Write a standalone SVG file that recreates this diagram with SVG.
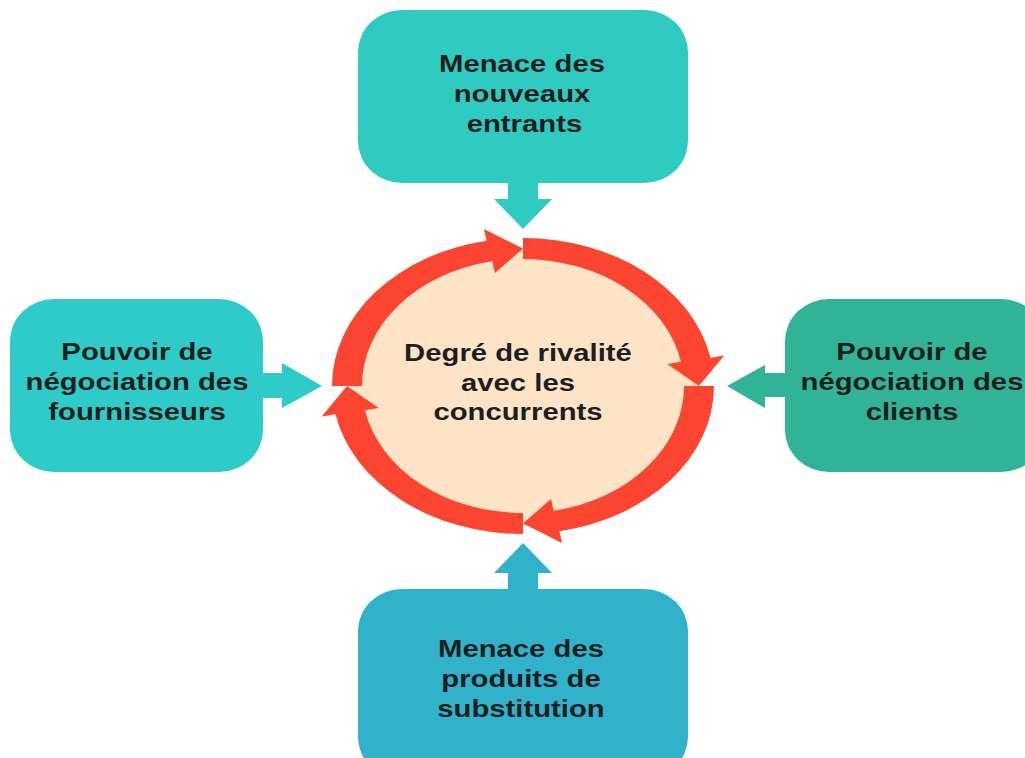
<svg xmlns="http://www.w3.org/2000/svg" width="1025" height="758" viewBox="0 0 1025 758">
<style>
.lbl{font-family:"Liberation Sans",Arial,sans-serif;font-weight:bold;font-size:24px;fill:#1e1e1e;text-anchor:middle}
.ring{fill:#FB4530}
</style>
<rect width="1025" height="758" fill="#ffffff"/>
<g id="connectors">
  <path d="M508 183 H538 V199 H552 L523 229 L494 199 H508 Z" fill="#2FCBC1"/>
  <path d="M508 589 H538 V573 H552 L523 543 L494 573 H508 Z" fill="#30B2CA"/>
  <path d="M263 373 V398 H282 V408 L322 386 L282 363 V373 Z" fill="#2FCBC8"/>
  <path d="M785 373 V397 H765 V408 L727 386 L765 365 V373 Z" fill="#31B398"/>
</g>
<g id="center">
  <ellipse cx="523" cy="386" rx="176" ry="137" fill="#FDE4C7"/>
  <g id="cycle">
    <path class="ring" d="M523 238 A191 148 0 0 1 710.5 357.8 L724.2 355.5 L699 386 L667.3 364.1 L681 361.8 A161 127 0 0 0 523 259 Z"/>
    <path class="ring" d="M714 386 A191 148 0 0 1 559.4 531.3 L562.1 543.1 L523 523.5 L551 498.9 L553.7 510.7 A161 127 0 0 0 684 386 Z"/>
    <path class="ring" d="M523 534 A191 148 0 0 1 335.5 414.2 L321.8 416.5 L347 386 L378.7 407.9 L365 410.2 A161 127 0 0 0 523 513 Z"/>
    <path class="ring" d="M332 386 A191 148 0 0 1 486.6 240.7 L483.9 228.9 L523 248.5 L495 273.1 L492.3 261.3 A161 127 0 0 0 362 386 Z"/>
  </g>
  <text class="lbl" transform="translate(518,0) scale(1.22,1)"><tspan x="0" y="361">Degré de rivalité</tspan><tspan x="0" y="391">avec les</tspan><tspan x="0" y="420">concurrents</tspan></text>
</g>
<g id="top">
  <rect x="358" y="10" width="330" height="173" rx="44" ry="42" fill="#2FCBC1"/>
  <text class="lbl" transform="translate(522,0) scale(1.22,1)"><tspan x="0" y="72">Menace des</tspan><tspan x="0" y="102">nouveaux</tspan><tspan x="2" y="132">entrants</tspan></text>
</g>
<g id="bottom">
  <rect x="358" y="589" width="330" height="190" rx="44" ry="42" fill="#30B2CA"/>
  <text class="lbl" transform="translate(521,0) scale(1.22,1)"><tspan x="0" y="657">Menace des</tspan><tspan x="0" y="687">produits de</tspan><tspan x="0" y="717">substitution</tspan></text>
</g>
<g id="left">
  <rect x="10" y="299" width="253" height="173" rx="44" ry="42" fill="#2FCBC8"/>
  <text class="lbl" transform="translate(137,0) scale(1.22,1)"><tspan x="0" y="360">Pouvoir de</tspan><tspan x="0" y="390">négociation des</tspan><tspan x="0" y="420">fournisseurs</tspan></text>
</g>
<g id="right">
  <rect x="785" y="299" width="260" height="173" rx="44" ry="42" fill="#31B398"/>
  <text class="lbl" transform="translate(912,0) scale(1.22,1)"><tspan x="0" y="360">Pouvoir de</tspan><tspan x="0" y="390">négociation des</tspan><tspan x="0" y="420">clients</tspan></text>
</g>
</svg>
